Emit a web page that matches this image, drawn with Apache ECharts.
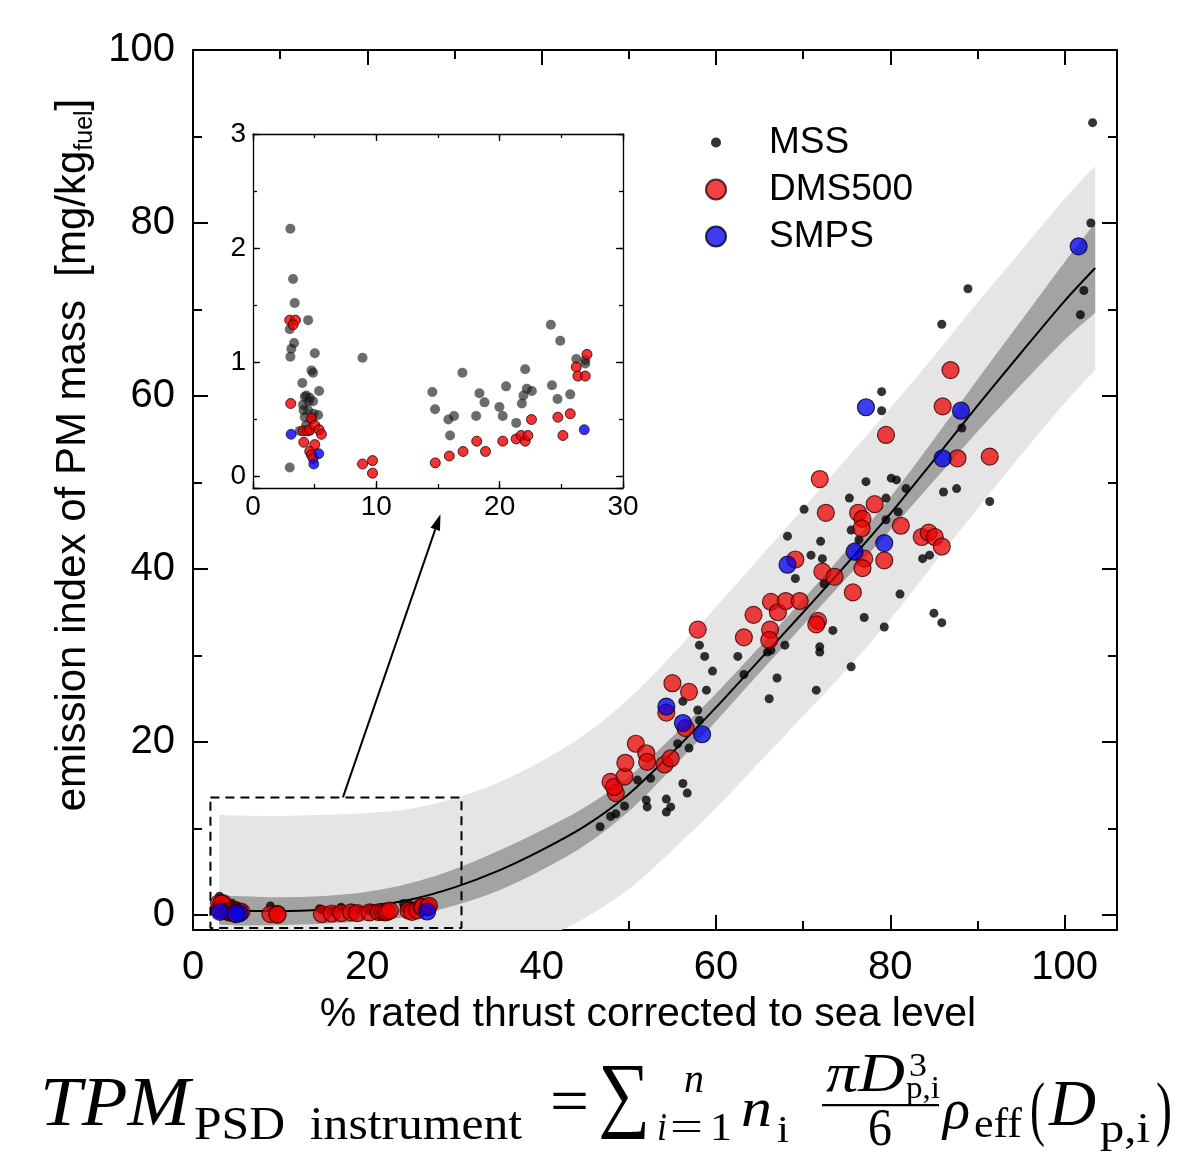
<!DOCTYPE html>
<html><head><meta charset="utf-8">
<script src="https://cdn.jsdelivr.net/npm/echarts/dist/echarts.min.js"></script>
<style>html,body{margin:0;padding:0;background:#fff}#c{width:1179px;height:1161px}</style>
</head><body><div id="c"></div><script>
// ---------------- DATA ----------------
const mssLow = [[3.03,2.17],[3.25,1.73],[3.38,1.52],[4.47,1.37],[3.33,1.17],[3.11,1.12],[3.03,1.05],[2.98,1.29],[5.01,1.08],[4.87,0.91],[4.74,0.93],[8.88,1.04],[4.0,0.82],[5.36,0.75],[4.33,0.71],[4.6,0.69],[4.06,0.63],[4.87,0.66],[4.47,0.58],[5.28,0.54],[4.2,0.52],[4.74,0.50],[4.6,0.40],[3.79,0.40],[2.98,0.08],[4.2,0.70],[4.5,0.66],[4.1,0.58],[4.9,0.55],[4.3,0.45],[14.54,0.74],[14.76,0.59],[15.84,0.50],[16.3,0.53],[15.98,0.36],[16.98,0.91],[18.36,0.73],[18.77,0.65],[18.09,0.53],[19.98,0.61],[20.52,0.79],[20.25,0.53],[21.34,0.47],[21.8,0.64],[22.07,0.94],[22.2,0.77],[22.61,0.75],[21.93,0.71],[24.15,1.33],[24.91,1.19],[24.24,0.80],[24.69,0.68],[25.72,0.72],[26.21,1.03],[26.94,1.02],[26.94,0.99]];
const mssHigh = [[46.7,10.2],[47.9,11.4],[48.5,11.7],[49.5,12.6],[51.0,15.6],[52.0,13.3],[52.1,12.5],[52.5,15.8],[54.3,13.4],[54.8,12.5],[54.3,11.9],[56.2,15.2],[56.7,14.1],[55.6,19.8],[56.9,19.3],[56.2,24.7],[57.9,23.7],[58.1,22.5],[58.9,26.0],[58.1,31.2],[58.7,29.9],[59.6,28.2],[62.5,29.9],[63.2,27.8],[65.9,30.4],[66.3,30.6],[67.9,31.2],[67.0,27.4],[66.1,25.0],[71.9,31.0],[71.9,30.4],[71.5,26.0],[73.4,32.9],[75.5,28.7],[68.2,43.8],[70.1,46.9],[72.0,43.2],[70.9,41.6],[69.1,38.9],[75.3,48.2],[72.2,41.2],[72.4,38.3],[76.4,43.4],[75.5,44.5],[77.2,50.1],[80.1,50.5],[80.7,50.3],[81.8,49.3],[86.1,48.9],[87.6,49.3],[91.4,47.8],[79.5,48.2],[80.9,46.6],[79.5,45.7],[83.7,41.2],[84.5,41.6],[81.1,37.1],[77.0,34.4],[79.3,33.3],[85.0,34.9],[85.9,33.8],[88.2,56.3],[79.0,58.3],[79.0,60.5],[85.9,68.3],[88.9,72.4],[101.8,69.4],[102.2,72.2],[103.0,80.0],[103.2,91.6]];
const dmsLow = [[2.98,1.37],[3.44,1.37],[3.25,1.33],[3.06,0.64],[4.12,0.30],[4.74,0.51],[4.06,0.40],[4.39,0.40],[4.6,0.41],[5.01,0.45],[5.36,0.41],[5.55,0.37],[5.01,0.28],[4.6,0.22],[4.74,0.19],[4.87,0.16],[8.88,0.11],[9.69,0.14],[9.69,0.03],[14.78,0.12],[15.92,0.18],[17.03,0.22],[18.14,0.31],[18.85,0.22],[20.25,0.31],[21.34,0.33],[21.74,0.36],[22.07,0.31],[22.29,0.36],[22.58,0.50],[24.72,0.52],[25.13,0.36],[25.72,0.55],[26.21,0.96],[26.34,0.88],[26.94,0.88],[27.08,1.07]];
const dmsHigh = [[47.9,15.4],[48.5,14.1],[48.3,14.8],[49.5,16.0],[49.6,17.6],[50.8,19.8],[52.0,18.7],[52.1,17.7],[54.1,17.4],[54.8,18.1],[54.3,23.4],[56.5,21.6],[55.0,26.8],[56.9,25.8],[57.9,33.0],[63.2,32.1],[64.3,34.7],[66.3,36.2],[67.1,35.0],[68.0,36.3],[69.6,36.3],[66.2,33.0],[66.1,31.8],[71.7,34.0],[71.5,33.6],[69.1,41.1],[72.2,39.7],[73.6,39.1],[75.7,37.3],[71.9,50.4],[72.6,46.5],[76.3,46.5],[76.8,45.8],[76.7,44.7],[78.2,47.5],[77.0,41.2],[76.8,40.1],[79.3,41.0],[81.2,45.0],[83.6,43.7],[84.4,44.2],[85.1,43.7],[85.9,42.6],[79.5,55.5],[87.7,52.8],[91.4,53.0],[86.0,58.8],[86.9,63.0]];
const smpsLow = [[3.09,0.37],[5.33,0.20],[4.93,0.11],[26.86,0.41]];
const smpsHigh = [[54.3,24.1],[56.2,22.2],[58.4,20.9],[68.2,40.5],[75.9,42.0],[79.3,43.0],[86.0,52.8],[88.1,58.3],[77.2,58.7],[101.6,77.3]];

// fit curve with confidence (dark) and prediction (light) half-widths
const fitX    = [3.0, 5, 10, 15, 20, 25, 30, 35, 40, 45, 50, 55, 60, 65, 70, 75, 80, 85, 90, 95, 100, 103.5];
const fitY    = [0.6, 0.5, 0.45, 0.6, 1.0, 1.8, 3.2, 5.1, 7.5, 10.3, 14.0, 18.8, 24.0, 29.5, 35.0, 40.6, 46.4, 52.6, 58.9, 65.0, 71.0, 74.8];
const ciHalf  = [1.7, 1.7, 1.6, 1.6, 1.7, 1.9, 2.1, 2.3, 2.3, 2.2, 2.0, 1.8, 1.6, 1.5, 1.5, 1.6, 1.9, 2.4, 3.0, 3.7, 4.5, 5.2];
const piHalf  = [11.0, 11.0, 11.0, 11.0, 10.8, 10.5, 10.3, 10.2, 10.3, 10.6, 11.0, 11.3, 11.6, 11.8, 12.0, 12.2, 12.2, 12.0, 11.9, 11.8, 11.8, 11.8];

const mainXTicks = [0, 20, 40, 60, 80, 100];
const mainYTicks = [0, 20, 40, 60, 80, 100];
const insetXTicks = [0, 10, 20, 30];
const insetYTicks = [0, 1, 2, 3];
const seriesNames = ['MSS', 'DMS500', 'SMPS'];
const zoomBox = [[2, 13.6], [30.8, 13.6], [30.8, -1.5], [2, -1.5], [2, 13.6]];
const arrowFrom = [17.2, 13.6];   // main-chart coords
const arrowTo = [15.2, -0.33];    // inset coords

// ---------------- CHART ----------------
const mss = mssLow.concat(mssHigh);
const dms = dmsLow.concat(dmsHigh);
const smps = smpsLow.concat(smpsHigh);
const SANS = 'Liberation Sans, Arial, Helvetica, sans-serif';
const chart = echarts.init(document.getElementById('c'), null, {renderer: 'canvas'});

function fmt(list) { return v => list.some(t => Math.abs(t - v) < 1e-9) ? String(v) : ''; }

function axisPair(grid, pos, opt) {
  const base = {gridIndex: grid, position: pos, type: 'value', min: opt.min, max: opt.max, splitLine: {show: false}};
  const major = Object.assign({}, base, {
    axisLine: {show: true, onZero: false, lineStyle: {color: '#000', width: opt.lw}},
    axisTick: {show: true, inside: true, length: opt.majorLen, lineStyle: {color: '#000', width: opt.lw}},
    axisLabel: opt.labels ? {show: true, formatter: fmt(opt.ticks), fontSize: opt.fs, fontFamily: SANS, color: '#000', margin: opt.margin, showMinLabel: true, showMaxLabel: true} : {show: false}
  }, opt.majorSpec);
  const minor = Object.assign({}, base, {
    axisLine: {show: false, onZero: false},
    axisTick: {show: true, inside: true, length: opt.minorLen, lineStyle: {color: '#000', width: opt.lw}},
    axisLabel: {show: false}
  }, opt.minorSpec);
  if (opt.name) Object.assign(major, opt.name);
  return [major, minor];
}

const mainX = {min: 0, max: 106, lw: 2, majorLen: 15, minorLen: 9, fs: 40, margin: 18, ticks: mainXTicks,
  majorSpec: {interval: 20}, minorSpec: {interval: 10}};
const mainY = {min: -1.73, max: 100, lw: 2, majorLen: 15, minorLen: 9, fs: 40, margin: 18, ticks: mainYTicks,
  majorSpec: {splitNumber: 5}, minorSpec: {splitNumber: 10}};
const insX = {min: 0, max: 30, lw: 1.3, majorLen: 7, minorLen: 4, fs: 28, margin: 5, ticks: insetXTicks,
  majorSpec: {interval: 10}, minorSpec: {interval: 5}};
const insY = {min: -0.1, max: 3, lw: 1.3, majorLen: 7, minorLen: 4, fs: 28, margin: 7, ticks: insetYTicks,
  majorSpec: {splitNumber: 3}, minorSpec: {splitNumber: 6}};

const xAxes = [].concat(
  axisPair(0, 'bottom', Object.assign({labels: true, name: {
    name: '% rated thrust corrected to sea level', nameLocation: 'middle', nameGap: 64,
    nameTextStyle: {fontSize: 41, fontFamily: SANS, color: '#000', padding: [0, 14, 0, 0]}}}, mainX)),
  axisPair(0, 'top', Object.assign({labels: false}, mainX)),
  axisPair(1, 'bottom', Object.assign({labels: true}, insX)),
  axisPair(1, 'top', Object.assign({labels: false}, insX))
);
const yAxes = [].concat(
  axisPair(0, 'left', Object.assign({labels: true, name: {
    name: '{a|emission index of PM mass  [mg/kg}{s|fuel}{a|]}', nameLocation: 'middle', nameGap: 84, nameRotate: 90,
    nameTextStyle: {padding: [0, 0, 0, 70], rich: {
      a: {fontSize: 42, fontFamily: SANS, color: '#000', lineHeight: 48},
      s: {fontSize: 25, fontFamily: SANS, color: '#000', lineHeight: 25, verticalAlign: 'bottom'}}}}}, mainY)),
  axisPair(0, 'right', Object.assign({labels: false}, mainY)),
  axisPair(1, 'left', Object.assign({labels: true}, insY)),
  axisPair(1, 'right', Object.assign({labels: false}, insY))
);

// smooth edge (Catmull-Rom -> cubic Bezier) through pixel points
function curveCmds(pts) {
  let d = '';
  for (let i = 0; i < pts.length - 1; i++) {
    const p0 = pts[Math.max(i - 1, 0)], p1 = pts[i], p2 = pts[i + 1], p3 = pts[Math.min(i + 2, pts.length - 1)];
    const c1 = [p1[0] + (p2[0] - p0[0]) / 6, p1[1] + (p2[1] - p0[1]) / 6];
    const c2 = [p2[0] - (p3[0] - p1[0]) / 6, p2[1] - (p3[1] - p1[1]) / 6];
    d += 'C' + c1[0] + ' ' + c1[1] + ' ' + c2[0] + ' ' + c2[1] + ' ' + p2[0] + ' ' + p2[1];
  }
  return d;
}

function bandSeries(half, color, z) {
  return {
    type: 'custom', xAxisIndex: 0, yAxisIndex: 0, z: z, silent: true, clip: true,
    data: fitX.map((x, i) => [x, fitY[i] - half[i], fitY[i] + half[i]]),
    encode: {x: 0, y: [1, 2]},
    renderItem: function (params, api) {
      if (params.dataIndex !== 0) return null;
      const up = [], lo = [];
      for (let i = 0; i < fitX.length; i++) {
        up.push(api.coord([fitX[i], fitY[i] + half[i]]));
        lo.push(api.coord([fitX[i], fitY[i] - half[i]]));
      }
      lo.reverse();
      const d = 'M' + up[0][0] + ' ' + up[0][1] + curveCmds(up) + 'L' + lo[0][0] + ' ' + lo[0][1] + curveCmds(lo) + 'Z';
      return {type: 'path', shape: {pathData: d}, style: {fill: color}};
    }
  };
}

const mainSym = {
  MSS: {symbolSize: 9, itemStyle: {color: '#000'}},
  DMS500: {symbolSize: 17, itemStyle: {color: 'rgba(236,0,0,0.92)', borderColor: '#3a0000', borderWidth: 1.2}},
  SMPS: {symbolSize: 17, itemStyle: {color: 'rgba(0,0,235,0.95)', borderColor: '#000022', borderWidth: 1.2}}
};
const insetSym = {
  MSS: {symbolSize: 10, itemStyle: {color: 'rgba(25,25,25,0.8)'}},
  DMS500: {symbolSize: 10, itemStyle: {color: '#f00000', borderColor: '#220000', borderWidth: 1}},
  SMPS: {symbolSize: 10, itemStyle: {color: '#0000ee', borderColor: '#000022', borderWidth: 0.8}}
};
const dataByName = {MSS: mss, DMS500: dms, SMPS: smps};

const series = [
  bandSeries(piHalf, '#e5e5e5', 1),
  bandSeries(ciHalf, '#a3a3a3', 2),
  {type: 'line', name: 'fit', xAxisIndex: 0, yAxisIndex: 0, data: fitX.map((x, i) => [x, fitY[i]]),
    smooth: 0.3, symbol: 'none', lineStyle: {color: '#000', width: 2}, z: 3, silent: true},
  {type: 'line', name: 'box', xAxisIndex: 0, yAxisIndex: 0, data: zoomBox, symbol: 'none', silent: true,
    lineStyle: {color: '#000', width: 2, type: [9, 6]}, z: 6, clip: false}
];
seriesNames.forEach((n, k) => series.push(Object.assign({type: 'scatter', name: n, xAxisIndex: 0, yAxisIndex: 0,
  data: dataByName[n], z: 4 + k, symbol: 'circle'}, mainSym[n])));
seriesNames.forEach((n, k) => series.push(Object.assign({type: 'scatter', name: n, xAxisIndex: 4, yAxisIndex: 4,
  data: dataByName[n], z: 4 + k, symbol: 'circle', clip: true}, insetSym[n])));

chart.setOption({
  animation: false,
  backgroundColor: '#fff',
  grid: [
    {left: 193, right: 62, top: 50, bottom: 231, containLabel: false},
    {left: 253, right: 556, top: 134, bottom: 673, show: true, backgroundColor: '#fff', borderWidth: 0, containLabel: false}
  ],
  legend: {
    data: [
      {name: 'MSS', icon: 'path://M0 0M20 20M5 10a5 5 0 1 0 10 0a5 5 0 1 0 -10 0z'},
      {name: 'DMS500', icon: 'circle'},
      {name: 'SMPS', icon: 'circle'}
    ],
    orient: 'vertical', left: 700, top: 119, itemWidth: 20, itemHeight: 20, itemGap: 10,
    textStyle: {fontSize: 37, fontFamily: SANS, color: '#000', padding: [0, 0, 0, 38]},
    selectedMode: false
  },
  xAxis: xAxes,
  yAxis: yAxes,
  series: series
});

// arrow from the dashed box to the inset, and the formula below the chart
const p0 = chart.convertToPixel({xAxisIndex: 0, yAxisIndex: 0}, arrowFrom);
const p1 = chart.convertToPixel({xAxisIndex: 4, yAxisIndex: 4}, arrowTo);
const ang = Math.atan2(p1[1] - p0[1], p1[0] - p0[0]);
const hl = 16, hw = 5;
const bx = p1[0] - hl * Math.cos(ang), by = p1[1] - hl * Math.sin(ang);
const head = [p1, [bx + hw * Math.sin(ang), by - hw * Math.cos(ang)], [bx - hw * Math.sin(ang), by + hw * Math.cos(ang)]];

const SERIF = 'Liberation Serif, DejaVu Serif, serif';
// [text, left x, right x, baseline, size, italic]
const formula = [
  ['TPM', 40, 190, 1130, 70, true],
  ['PSD  instrument', 194, 522, 1143, 46, false],
  ['=', 550, 589, 1128, 66, false],
  ['\u2211', 598, 650, 1127, 84, false],
  ['n', 684, 704, 1095, 42, true],
  ['i', 657, 667, 1143, 40, true],
  ['=', 670, 703, 1143, 42, false],
  ['1', 710, 732, 1143, 40, false],
  ['n', 741, 772, 1130, 54, true],
  ['i', 777, 789, 1145, 38, false],
  ['\u03c0D', 826, 905, 1095, 54, true],
  ['3', 909, 927, 1079, 34, false],
  ['p,i', 906, 940, 1100, 32, false],
  ['6', 868, 892, 1149, 52, false],
  ['\u03c1', 943, 970, 1132, 58, true],
  ['eff', 974, 1022, 1140, 42, false],
  ['(', 1030, 1045, 1138, 72, false],
  ['D', 1049, 1096, 1130, 66, true],
  ['p,i', 1100, 1150, 1145, 42, false],
  [')', 1156, 1172, 1138, 72, false]
];
const mctx = document.createElement('canvas').getContext('2d');
const graphics = [
  {type: 'line', shape: {x1: p0[0], y1: p0[1], x2: bx, y2: by}, style: {stroke: '#000', lineWidth: 2}, z: 100},
  {type: 'polygon', shape: {points: head}, style: {fill: '#000'}, z: 100},
  {type: 'rect', shape: {x: 822, y: 1104, width: 117, height: 2.2}, style: {fill: '#000'}, z: 100}
];
formula.forEach(f => {
  const font = (f[5] ? 'italic ' : '') + f[4] + 'px ' + SERIF;
  mctx.font = font;
  const w = mctx.measureText(f[0]).width || 1;
  graphics.push({type: 'text', z: 100, x: f[1], y: f[3] - 0.34 * f[4], scaleX: (f[2] - f[1]) / w,
    style: {text: f[0], x: 0, y: 0, verticalAlign: 'middle', align: 'left', font: font, fill: '#000'}});
});
chart.setOption({graphic: graphics});
</script></body></html>
